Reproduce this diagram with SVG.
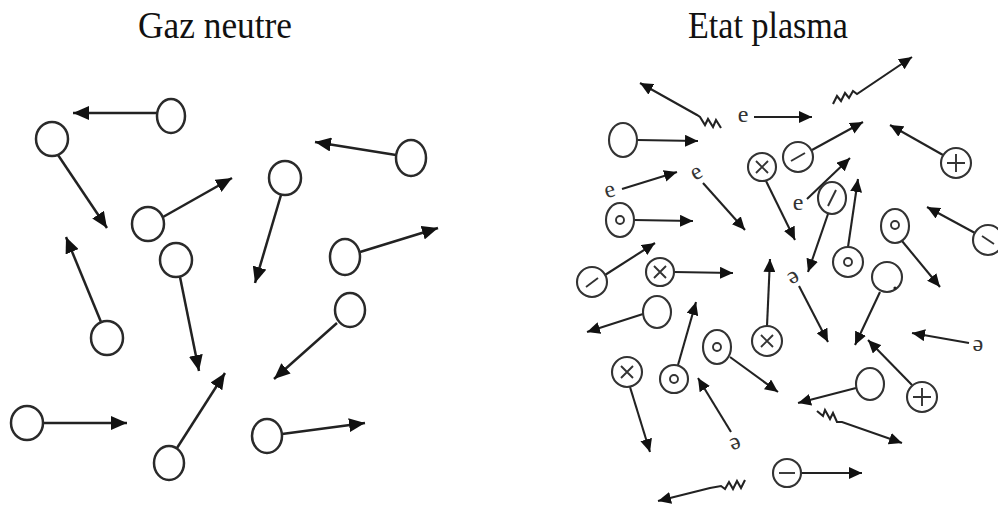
<svg xmlns="http://www.w3.org/2000/svg" width="998" height="506" viewBox="0 0 998 506">
<style>
.p{fill:#fff;stroke:#2a2a2a;stroke-width:2.5}
.q{fill:#fff;stroke:#333;stroke-width:2.1}
.s{fill:none;stroke:#333;stroke-width:1.9}
.v{fill:none;stroke:#222;stroke-width:2.5;marker-end:url(#aL)}
.w{fill:none;stroke:#222;stroke-width:2.1;marker-end:url(#aR)}
.t{font-family:"Liberation Serif","Times New Roman",serif;font-size:37px;fill:#111;text-anchor:middle}
.e{font-family:"Liberation Serif","Times New Roman",serif;font-size:24px;fill:#333;text-anchor:middle}
</style>
<defs>
<marker id="aL" markerUnits="userSpaceOnUse" markerWidth="17" markerHeight="14" refX="16" refY="7" orient="auto"><path d="M0,0 L16,7 L0,14 z" fill="#111"/></marker>
<marker id="aR" markerUnits="userSpaceOnUse" markerWidth="14" markerHeight="12" refX="13" refY="6" orient="auto"><path d="M0,0 L13,6 L0,12 z" fill="#111"/></marker>
</defs>
<rect width="998" height="506" fill="#fff"/>
<text class="t" x="215" y="38" textLength="154" lengthAdjust="spacingAndGlyphs">Gaz neutre</text>
<text class="t" x="768" y="38" textLength="160" lengthAdjust="spacingAndGlyphs">Etat plasma</text>

<g id="connectors">
<!-- left panel -->
<path class="v" d="M157,113 L73,113"/>
<path class="v" d="M58,155 L107,228"/>
<path class="v" d="M396,155 L315,142"/>
<path class="v" d="M281,195 L255,283"/>
<path class="v" d="M163,217 L232,178"/>
<path class="v" d="M360,252 L438,228"/>
<path class="v" d="M180,277 L199,371"/>
<path class="v" d="M101,322 L66,237"/>
<path class="v" d="M337,323 L274,379"/>
<path class="v" d="M43,423 L127,423"/>
<path class="v" d="M177,448 L225,373"/>
<path class="v" d="M282,434 L365,423"/>
<!-- right panel: ions / atoms -->
<path class="w" d="M637,140 L698,141"/>
<path class="w" d="M766,181 L795,240"/>
<path class="w" d="M812,150 L863,122"/>
<path class="w" d="M943,155 L890,125"/>
<path class="w" d="M634,220 L693,221"/>
<path class="w" d="M828,214 L808,272"/>
<path class="w" d="M848,247 L858,179"/>
<path class="w" d="M902,241 L940,287"/>
<path class="w" d="M975,233 L927,207"/>
<path class="w" d="M605,275 L655,243"/>
<path class="w" d="M674,272 L733,273"/>
<path class="w" d="M767,326 L770,259"/>
<path class="w" d="M880,292 L855,345"/>
<path class="w" d="M643,314 L587,332"/>
<path class="w" d="M678,365 L696,302"/>
<path class="w" d="M730,357 L778,392"/>
<path class="w" d="M630,387 L650,452"/>
<path class="w" d="M912,385 L868,340"/>
<path class="w" d="M856,388 L798,403"/>
<path class="w" d="M801,473 L862,473"/>
<!-- electrons -->
<path class="w" d="M754,117 L812,117"/>
<path class="w" d="M622,189 L677,172"/>
<path class="w" d="M703,183 L745,230"/>
<path class="w" d="M807,199 L850,158"/>
<path class="w" d="M799,286 L828,342"/>
<path class="w" d="M731,432 L698,378"/>
<path class="w" d="M969,343 L912,333"/>
<!-- photons -->
<path class="w" d="M721,128 L716,120 L713,127 L708,119 L705,125 L700,117 L697,115 L640,83"/>
<path class="w" d="M833,104 L837,96 L841,101 L845,93 L849,98 L853,91 L857,94 L912,57"/>
<path class="w" d="M817,411 L823,416 L825,410 L830,419 L833,413 L837,422 L842,422 L902,443"/>
<path class="w" d="M745,480 L741,488 L737,481 L733,489 L729,482 L725,489 L721,486 L710,488 L658,501"/>
</g>

<g id="gaz-neutre">
<g id="n1"><ellipse class="p" cx="171" cy="116" rx="14" ry="17"/></g>
<g id="n2"><ellipse class="p" cx="52" cy="139" rx="16" ry="17"/></g>
<g id="n3"><ellipse class="p" cx="411" cy="158" rx="15" ry="18"/></g>
<g id="n4"><ellipse class="p" cx="285" cy="178" rx="16" ry="17"/></g>
<g id="n5"><ellipse class="p" cx="148" cy="224" rx="16" ry="17"/></g>
<g id="n6"><ellipse class="p" cx="345" cy="257" rx="15" ry="18"/></g>
<g id="n7"><ellipse class="p" cx="176" cy="260" rx="16" ry="17"/></g>
<g id="n8"><ellipse class="p" cx="107" cy="338" rx="16" ry="17"/></g>
<g id="n9"><ellipse class="p" cx="350" cy="310" rx="15" ry="17"/></g>
<g id="n10"><ellipse class="p" cx="27" cy="423" rx="16" ry="17"/></g>
<g id="n11"><ellipse class="p" cx="169" cy="463" rx="15" ry="17"/></g>
<g id="n12"><ellipse class="p" cx="267" cy="436" rx="15" ry="17"/></g>
</g>

<g id="etat-plasma">
<g id="pA"><ellipse class="q" cx="623" cy="140" rx="14" ry="17"/></g>
<g id="pB"><circle class="q" cx="762" cy="167" r="14"/><path class="s" d="M756,161 L768,173 M768,161 L756,173"/></g>
<g id="pC"><circle class="q" cx="798" cy="157" r="15"/><path class="s" d="M791,161 L805,153"/></g>
<g id="pD"><circle class="q" cx="956" cy="163" r="15"/><path class="s" d="M956,154 L956,172 M947,163 L965,163"/></g>
<g id="pE"><ellipse class="q" cx="620" cy="220" rx="14" ry="17"/><circle class="s" cx="620" cy="220" r="4"/></g>
<g id="pF"><ellipse class="q" cx="832" cy="198" rx="14" ry="16"/><path class="s" d="M828,206 L836,190"/></g>
<g id="pG"><circle class="q" cx="848" cy="262" r="15"/><circle class="s" cx="848" cy="262" r="4"/></g>
<g id="pH"><ellipse class="q" cx="895" cy="226" rx="14" ry="17"/><circle class="s" cx="895" cy="225" r="4"/></g>
<g id="pI"><circle class="q" cx="988" cy="240" r="15"/><path class="s" d="M982,236 L994,244"/></g>
<g id="pJ"><circle class="q" cx="592" cy="282" r="15"/><path class="s" d="M586,287 L598,278"/></g>
<g id="pK"><circle class="q" cx="660" cy="272" r="14"/><path class="s" d="M654,266 L666,278 M666,266 L654,278"/></g>
<g id="pL"><circle class="q" cx="767" cy="341" r="15"/><path class="s" d="M761,335 L773,347 M773,335 L761,347"/></g>
<g id="pM"><circle class="q" cx="887" cy="277" r="15"/><circle cx="895" cy="288" r="1.6" fill="#222"/></g>
<g id="pN"><ellipse class="q" cx="657" cy="312" rx="14" ry="16"/></g>
<g id="pO"><circle class="q" cx="674" cy="379" r="14"/><circle class="s" cx="674" cy="379" r="4"/></g>
<g id="pP"><ellipse class="q" cx="717" cy="347" rx="14" ry="17"/><circle class="s" cx="717" cy="347" r="4"/></g>
<g id="pQ"><circle class="q" cx="627" cy="372" r="15"/><path class="s" d="M621,366 L633,378 M633,366 L621,378"/></g>
<g id="pR"><circle class="q" cx="922" cy="397" r="15"/><path class="s" d="M922,388 L922,406 M913,397 L931,397"/></g>
<g id="pS"><ellipse class="q" cx="870" cy="384" rx="14" ry="16"/></g>
<g id="pT"><circle class="q" cx="787" cy="473" r="14"/><path class="s" d="M779,473 L795,473"/></g>
<g id="e1"><text class="e" x="743" y="122">e</text></g>
<g id="e2"><text class="e" x="610" y="197" transform="rotate(-15 610 192)">e</text></g>
<g id="e3"><text class="e" x="697" y="179" font-size="19" transform="rotate(-30 697 174)">e</text></g>
<g id="e4"><text class="e" x="798" y="210">e</text></g>
<g id="e5"><text class="e" x="793" y="282" font-size="19" transform="rotate(150 793 277)">e</text></g>
<g id="e6"><text class="e" x="735" y="448" transform="rotate(160 735 443)">e</text></g>
<g id="e7"><text class="e" x="978" y="350" transform="rotate(180 978 345)">e</text></g>
</g>
</svg>
